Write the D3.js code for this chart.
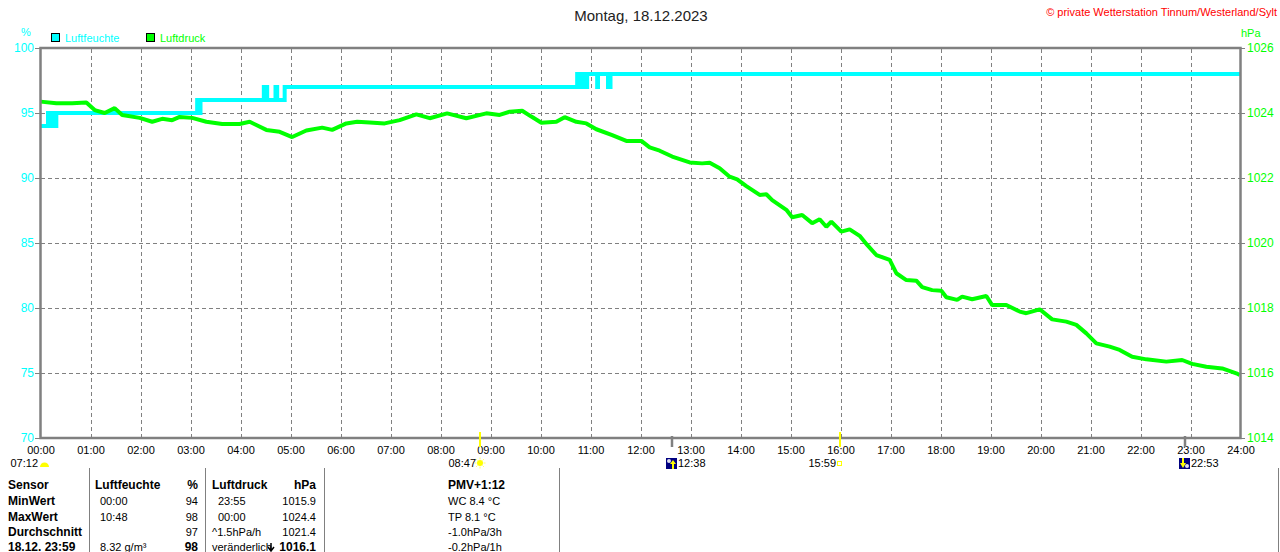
<!DOCTYPE html>
<html>
  <head>
    <meta charset="utf-8" />
    <script src="https://d3js.org/d3.v7.min.js"></script>
    <style>
      body { margin: 0; background: #fff; }
      text { font-family: "Liberation Sans", Arial, sans-serif; }
      .grid { stroke: #808080; stroke-width: 1; stroke-dasharray: 4,3; }
      .frame { fill: none; stroke: #808080; stroke-width: 2.5; }
      .tbl { font-size: 11px; fill: #000; }
      .tbl.b { font-size: 12px; font-weight: bold; }
    </style>
  </head>
  <body>

    <svg id="chart" width="1280" height="552"></svg>

    <script>

      // humidity (step values, minutes since midnight)
      var humMin = [0, 9, 10, 11, 12, 13, 15, 16, 18, 19, 188, 189, 190, 191, 192, 268, 272, 282, 284, 293,
        644, 645, 647, 648, 650, 651, 653, 655, 656, 668, 669, 681, 684, 1440];
      var humVal = [94, 95, 94, 95, 94, 95, 94, 95, 94, 95, 96, 95, 96, 95, 96, 97, 96, 97, 96, 97,
        98, 97, 98, 97, 98, 97, 98, 97, 98, 97, 98, 97, 98, 98];

      // air pressure hPa
      var pressMin = [0, 19, 38, 55, 65, 77, 89, 98, 119, 134, 146, 158, 167, 182, 199, 218, 239, 251, 271, 287,
        302, 319, 338, 350, 367, 380, 395, 413, 431, 451, 467, 488, 511, 535, 551, 563, 578, 589, 601, 619,
        629, 643, 655, 667, 686, 703, 721, 731, 743, 758, 779, 794, 803, 815, 827, 836, 847, 863, 871, 878,
        895, 902, 914, 926, 935, 943, 949, 961, 971, 983, 992, 1003, 1019, 1027, 1039, 1051, 1058, 1070, 1081, 1087,
        1100, 1106, 1118, 1135, 1142, 1159, 1175, 1183, 1199, 1214, 1231, 1243, 1255, 1267, 1283, 1295, 1310, 1327, 1351, 1370,
        1382, 1399, 1418, 1435, 1439];
      var pressVal = [1024.35, 1024.30, 1024.30, 1024.32, 1024.09, 1024.00, 1024.15, 1023.94, 1023.85, 1023.73,
        1023.82, 1023.78, 1023.88, 1023.85, 1023.73, 1023.66, 1023.66, 1023.73, 1023.48, 1023.42,
        1023.26, 1023.46, 1023.55, 1023.48, 1023.68, 1023.73, 1023.71, 1023.68, 1023.78, 1023.96,
        1023.84, 1023.99, 1023.84, 1023.99, 1023.94, 1024.04, 1024.07, 1023.89, 1023.70, 1023.73,
        1023.87, 1023.73, 1023.68, 1023.50, 1023.32, 1023.14, 1023.14, 1022.94, 1022.84, 1022.66,
        1022.48, 1022.45, 1022.47, 1022.30, 1022.04, 1021.96, 1021.75, 1021.48, 1021.50, 1021.32,
        1021.02, 1020.79, 1020.86, 1020.61, 1020.73, 1020.50, 1020.66, 1020.35, 1020.42, 1020.22,
        1019.94, 1019.63, 1019.48, 1019.07, 1018.86, 1018.84, 1018.64, 1018.55, 1018.53, 1018.33,
        1018.25, 1018.35, 1018.27, 1018.37, 1018.09, 1018.09, 1017.89, 1017.84, 1017.96, 1017.65,
        1017.58, 1017.48, 1017.22, 1016.91, 1016.81, 1016.71, 1016.50, 1016.42, 1016.35, 1016.40,
        1016.28, 1016.19, 1016.14, 1015.99, 1015.94];

      var hours = d3.range(0, 25);
      var humTicks = [70, 75, 80, 85, 90, 95, 100];
      var pressTicks = [1014, 1016, 1018, 1020, 1022, 1024, 1026];

      // sun / moon events
      var sunEvents = [{ t: "08:47", kind: "rise" }, { t: "15:59", kind: "set" }];
      var moonEvents = [{ t: "12:38", kind: "rise" }, { t: "22:53", kind: "set" }];
      var dayLength = "07:12";

      // table below chart
      var tblRows = ["Sensor", "MinWert", "MaxWert", "Durchschnitt", "18.12. 23:59"];
      var humTimes = ["", "00:00", "10:48", "", "8.32 g/m³"];
      var humCol = ["%", "94", "98", "97", "98"];
      var pressTimes = ["", "23:55", "00:00", "^1.5hPa/h", "veränderlich"];
      var pressCol = ["hPa", "1015.9", "1024.4", "1021.4", "1016.1"];
      var extraCol = ["PMV+1:12", "WC 8.4 °C", "TP 8.1 °C", "-1.0hPa/3h", "-0.2hPa/1h"];

      var cyan = "#00ffff", green = "#00ff00";
      var svg = d3.select("#chart");

      var x = d3.scaleLinear().domain([0, 1440]).range([40.5, 1240.5]);
      var yH = d3.scaleLinear().domain([70, 100]).range([438, 48]);
      var yP = d3.scaleLinear().domain([1014, 1026]).range([438, 48]);

      function toMin(s) {
        var p = s.split(":");
        return +p[0] * 60 + +p[1];
      }

      // titles
      svg.append("text").attr("x", 641).attr("y", 21).attr("text-anchor", "middle")
        .attr("font-size", 15).attr("fill", "#222").text("Montag, 18.12.2023");
      svg.append("text").attr("x", 1277).attr("y", 16).attr("text-anchor", "end")
        .attr("font-size", 11).attr("fill", "#ff0000").text("© private Wetterstation Tinnum/Westerland/Sylt");
      svg.append("text").attr("x", 26).attr("y", 36).attr("text-anchor", "middle")
        .attr("font-size", 11).attr("fill", cyan).text("%");
      svg.append("text").attr("x", 1241).attr("y", 37)
        .attr("font-size", 11).attr("fill", green).text("hPa");

      // legend
      var legend = [{ name: "Luftfeuchte", c: cyan, x: 51 }, { name: "Luftdruck", c: green, x: 146 }];
      legend.forEach(function(l) {
        svg.append("rect").attr("x", l.x + 0.5).attr("y", 33.5).attr("width", 8).attr("height", 8)
          .attr("fill", l.c).attr("stroke", "#000");
        svg.append("text").attr("x", l.x + 14).attr("y", 42).attr("font-size", 11)
          .attr("fill", l.c).text(l.name);
      });

      // grid
      svg.append("g").selectAll("line").data(hours.slice(1, 24)).enter().append("line")
        .attr("class", "grid")
        .attr("x1", function(h) { return Math.round(x(h * 60)) + 0.5; })
        .attr("x2", function(h) { return Math.round(x(h * 60)) + 0.5; })
        .attr("y1", 49).attr("y2", 437);
      svg.append("g").selectAll("line").data(humTicks.slice(1, 6)).enter().append("line")
        .attr("class", "grid")
        .attr("x1", 41).attr("x2", 1240)
        .attr("y1", function(v) { return yH(v) + 0.5; })
        .attr("y2", function(v) { return yH(v) + 0.5; });

      // axes
      var axL = svg.append("g").attr("transform", "translate(40,0)")
        .call(d3.axisLeft(yH).tickValues(humTicks).tickSize(5).tickPadding(1));
      axL.select(".domain").remove();
      axL.selectAll("line").attr("stroke", "#808080");
      axL.selectAll("text").attr("fill", cyan).attr("font-size", 12).attr("font-family", "Liberation Sans, Arial");

      var axR = svg.append("g").attr("transform", "translate(1241,0)")
        .call(d3.axisRight(yP).tickValues(pressTicks).tickSize(4).tickPadding(2).tickFormat(d3.format("d")));
      axR.select(".domain").remove();
      axR.selectAll("line").attr("stroke", "#808080");
      axR.selectAll("text").attr("fill", green).attr("font-size", 12).attr("font-family", "Liberation Sans, Arial");

      var axB = svg.append("g").attr("transform", "translate(0,438)")
        .call(d3.axisBottom(x).tickValues(hours.map(function(h) { return h * 60; }))
          .tickSize(0).tickPadding(8)
          .tickFormat(function(m) { return d3.format("02")(m / 60) + ":00"; }));
      axB.select(".domain").remove();
      axB.selectAll("text").attr("fill", "#000").attr("font-size", 11).attr("font-family", "Liberation Sans, Arial");

      // lines
      var humData = humMin.map(function(m, i) { return [m, humVal[i]]; });
      var pressData = pressMin.map(function(m, i) { return [m, pressVal[i]]; });

      svg.append("path").datum(humData)
        .attr("fill", "none").attr("stroke", cyan).attr("stroke-width", 4)
        .attr("d", d3.line().curve(d3.curveStepAfter)
          .x(function(d) { return x(d[0]); }).y(function(d) { return yH(d[1]); }));

      svg.append("path").datum(pressData)
        .attr("fill", "none").attr("stroke", green).attr("stroke-width", 4).attr("stroke-linejoin", "bevel")
        .attr("d", d3.line()
          .x(function(d) { return x(d[0]); }).y(function(d) { return yP(d[1]); }));

      // frame
      svg.append("rect").attr("class", "frame")
        .attr("x", 40.5).attr("y", 48).attr("width", 1200).attr("height", 390);

      // sun / moon markers
      svg.append("text").attr("x", 38).attr("y", 467).attr("text-anchor", "end")
        .attr("font-size", 11).attr("fill", "#000").text(dayLength);
      svg.append("path").attr("d", "M40,467 A4.5,4.5 0 0 1 49,467 Z").attr("fill", "#ffff00");

      sunEvents.forEach(function(e) {
        var px = Math.round(x(toMin(e.t)));
        svg.append("line").attr("x1", px).attr("x2", px).attr("y1", 432).attr("y2", 447)
          .attr("stroke", "#ffff00").attr("stroke-width", 2);
        svg.append("text").attr("x", px - 4).attr("y", 467).attr("text-anchor", "end")
          .attr("font-size", 11).attr("fill", "#000").text(e.t);
        if (e.kind === "rise") {
          var g = svg.append("g").attr("transform", "translate(" + px + ",463)");
          g.append("circle").attr("r", 3).attr("fill", "#ffff00");
          g.selectAll("line").data(d3.range(8)).enter().append("line")
            .attr("x1", function(i) { return 3.5 * Math.cos(i * Math.PI / 4); })
            .attr("y1", function(i) { return 3.5 * Math.sin(i * Math.PI / 4); })
            .attr("x2", function(i) { return 5.5 * Math.cos(i * Math.PI / 4); })
            .attr("y2", function(i) { return 5.5 * Math.sin(i * Math.PI / 4); })
            .attr("stroke", "#ffff66").attr("stroke-width", 1);
        } else {
          svg.append("rect").attr("x", px - 2.5).attr("y", 461.5).attr("width", 4).attr("height", 4)
            .attr("fill", "none").attr("stroke", "#ffff00");
        }
      });

      moonEvents.forEach(function(e) {
        var px = Math.round(x(toMin(e.t)));
        svg.append("line").attr("x1", px).attr("x2", px).attr("y1", 436).attr("y2", 447)
          .attr("stroke", "#808080").attr("stroke-width", 2.5);
        var g = svg.append("g").attr("transform", "translate(" + (px - 6) + ",458)");
        g.append("rect").attr("width", 11).attr("height", 11).attr("fill", "#000080");
        if (e.kind === "rise") {
          g.append("circle").attr("cx", 3).attr("cy", 3).attr("r", 2).attr("fill", "#dde");
          g.append("path").attr("d", "M7,2 L10,6 L8,6 L8,11 L6,11 L6,6 L4,6 Z").attr("fill", "#ffff00");
        } else {
          g.append("circle").attr("cx", 8).attr("cy", 8).attr("r", 2).attr("fill", "#dde");
          g.append("path").attr("d", "M4,10 L1,5 L3,5 L3,0 L5,0 L5,5 L7,5 Z").attr("fill", "#ffff00");
        }
        g.append("text").attr("x", 12).attr("y", 9).attr("font-size", 11).attr("fill", "#000").text(e.t);
      });

      // table
      [89.5, 205.5, 324.5, 559.5, 1278.5].forEach(function(lx) {
        svg.append("line").attr("x1", lx).attr("x2", lx).attr("y1", 468).attr("y2", 552)
          .attr("stroke", "#808080").attr("stroke-width", 1);
      });
      var rowY = [489, 505, 521, 536, 551];
      var tbl = svg.append("g");
      function cell(txt, cx, i, anchor, bold) {
        tbl.append("text").attr("class", bold ? "tbl b" : "tbl")
          .attr("x", cx).attr("y", rowY[i]).attr("text-anchor", anchor || "start").text(txt);
      }
      tblRows.forEach(function(r, i) { cell(r, 8, i, "start", true); });
      humTimes.forEach(function(r, i) { cell(i === 0 ? "Luftfeuchte" : r, i === 0 ? 95 : 100, i, "start", i === 0); });
      humCol.forEach(function(r, i) { cell(r, 198, i, "end", i === 0 || i === 4); });
      pressTimes.forEach(function(r, i) {
        cell(i === 0 ? "Luftdruck" : r, i === 1 || i === 2 ? 218 : 212, i, "start", i === 0);
      });
      pressCol.forEach(function(r, i) { cell(r, 316, i, "end", i === 0 || i === 4); });
      extraCol.forEach(function(r, i) { cell(r, 448, i, "start", i === 0); });

      // falling-trend arrow next to "veränderlich"
      svg.append("path").attr("d", "M271,543 L271,550 M268,547 L271,551 L274,547")
        .attr("fill", "none").attr("stroke", "#000").attr("stroke-width", 1.5);

    </script>

  </body>
</html>
